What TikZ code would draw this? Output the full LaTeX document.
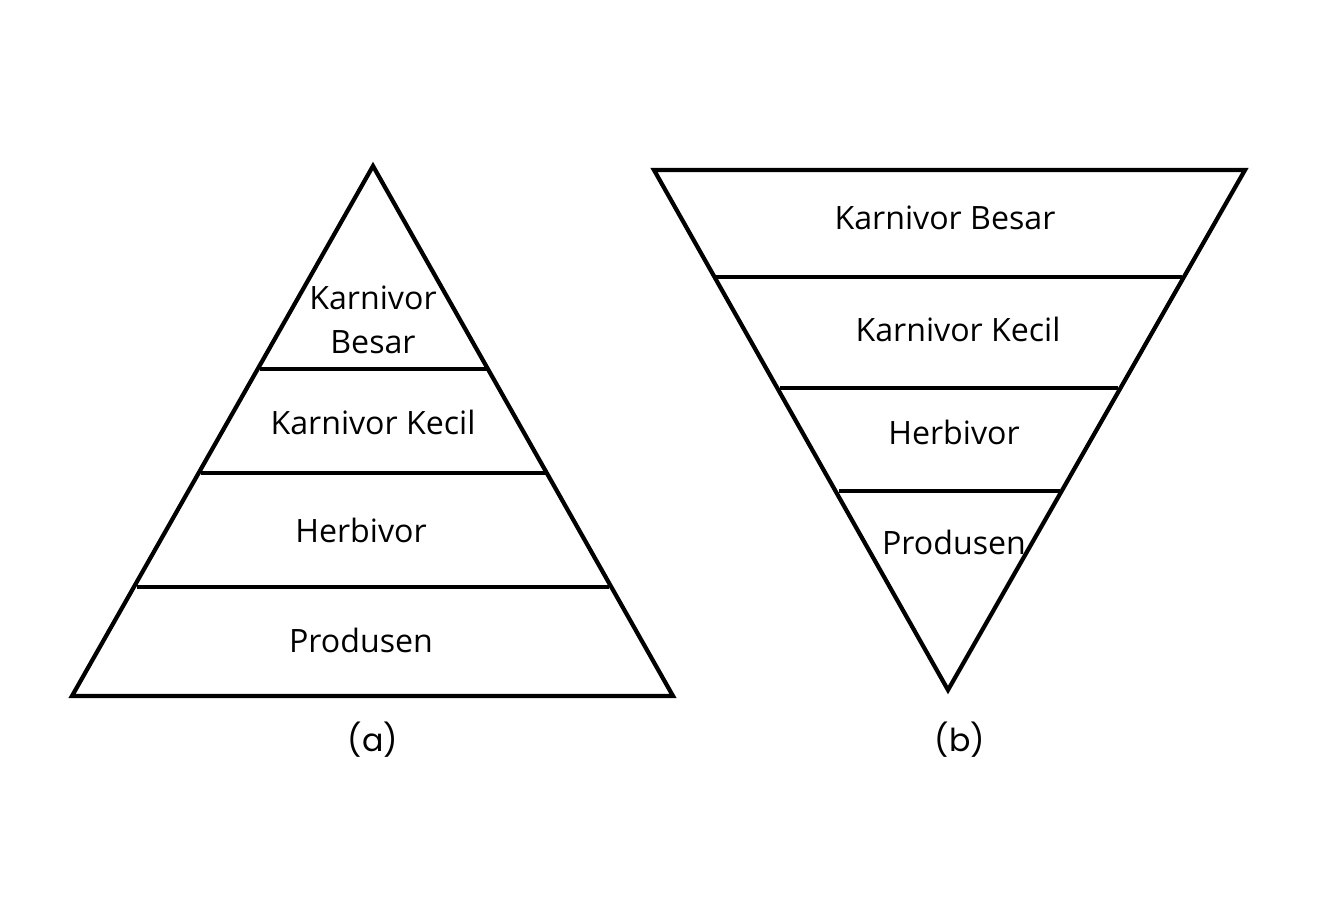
\documentclass[tikz,border=0pt]{standalone}
\usepackage{fontspec}
\setmainfont{Open Sans}
\newfontfamily\capfont{Poppins}
\usetikzlibrary{positioning}

\begin{document}
\begin{tikzpicture} [x=0.02cm,y=-0.02cm,line width=2.4pt]

\tikzstyle{layer}=[draw=none,font=\fontsize{18.3}{25}\selectfont,align=center,inner sep=0pt]
\tikzstyle{caption}=[draw=none,font=\capfont\fontsize{18}{20}\selectfont,inner sep=0pt]

\useasboundingbox (0,0) rectangle (1338,920);

% (a) pyramid
\begin{scope}[]
\coordinate (a top) at (373,166);
\coordinate (a left) at (72,696);
\coordinate (a right) at (673,696);
\draw [line join=miter] (a top) -- (a right) -- (a left) -- cycle;

\coordinate (a1l) at (260,369); \coordinate (a1r) at (487,369);
\coordinate (a2l) at (201,473); \coordinate (a2r) at (546,473);
\coordinate (a3l) at (137,587); \coordinate (a3r) at (609,587);
\draw (a1l) -- (a1r);
\draw (a2l) -- (a2r);
\draw (a3l) -- (a3r);

\node (a kb) [layer] at (373,320) {Karnivor\\Besar};
\node (a kk) [layer] at (373,422) {Karnivor Kecil};
\node (a hb) [layer] at (361,530) {Herbivor};
\node (a pr) [layer] at (361,640) {Produsen};

\node (cap a) [caption] at (373,740) {(a)};
\end{scope}

% (b) inverted pyramid
\begin{scope}[]
\coordinate (b left) at (654,170);
\coordinate (b right) at (1245,170);
\coordinate (b tip) at (948,690);
\draw [line join=miter] (b left) -- (b right) -- (b tip) -- cycle;

\coordinate (b1l) at (716,277); \coordinate (b1r) at (1182,277);
\coordinate (b2l) at (780,388); \coordinate (b2r) at (1118,388);
\coordinate (b3l) at (839,491); \coordinate (b3r) at (1060,491);
\draw (b1l) -- (b1r);
\draw (b2l) -- (b2r);
\draw (b3l) -- (b3r);

\node (b kb) [layer] at (945,218) {Karnivor Besar};
\node (b kk) [layer] at (958,329) {Karnivor Kecil};
\node (b hb) [layer] at (954,432) {Herbivor};
\node (b pr) [layer] at (954,542) {Produsen};

\node (cap b) [caption] at (960,740) {(b)};
\end{scope}

\end{tikzpicture}
\end{document}
